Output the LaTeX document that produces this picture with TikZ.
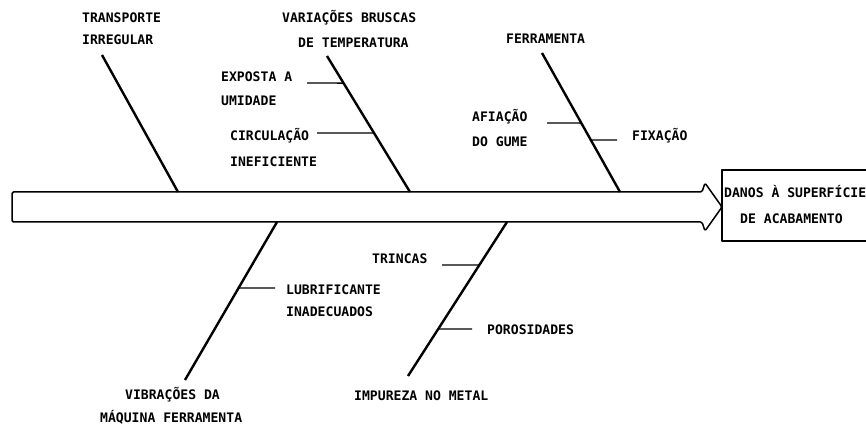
\documentclass[tikz,border=0pt]{standalone}
\usepackage{fontspec}
\setmonofont{DejaVu Sans Mono}
\begin{document}
\begin{tikzpicture}[x=1pt,y=-1pt,
  lbl/.style={anchor=base west,inner sep=0pt,font=\fontsize{13.1}{15}\selectfont\ttfamily\bfseries},
  bone/.style={line width=2.4pt},
  twig/.style={line width=1.4pt},
  outline/.style={line width=1.5pt,line join=round}]
\useasboundingbox (0,0) rectangle (866,427);
% spine (fat arrow)
\draw[outline,rounded corners=1.5pt] (12,192) -- (702,192) -- (705,183) -- (722,207) -- (705,231) -- (702,222) -- (12,222) -- cycle;
% effect box
\coordinate (e1) at (868,170);
\coordinate (e2) at (722,170);
\coordinate (e3) at (722,241);
\coordinate (e4) at (868,241);
\draw[outline] (e1) -- (e2) -- (e3) -- (e4);
\node[lbl] (eff1) at (724,197.8) {DANOS À SUPERFÍCIE};
\node[lbl] (eff2) at (740,223.8) {DE ACABAMENTO};
% bone coordinates
\coordinate (b1t) at (102,55);  \coordinate (b1s) at (178,192);
\coordinate (b2t) at (327,56);  \coordinate (b2s) at (410,192);
\coordinate (b3t) at (542,53);  \coordinate (b3s) at (620,192);
\coordinate (b4t) at (185,380); \coordinate (b4s) at (277,222);
\coordinate (b5t) at (408,376); \coordinate (b5s) at (507,222);
\draw[bone] (b1t) -- (b1s);
\draw[bone] (b2t) -- (b2s);
\draw[bone] (b3t) -- (b3s);
\draw[bone] (b4t) -- (b4s);
\draw[bone] (b5t) -- (b5s);
% twigs
\coordinate (t1a) at (307,83);
\coordinate (t2a) at (317,133);
\coordinate (t3a) at (547,123);
\coordinate (t4a) at (617,140);
\coordinate (t5a) at (275,288);
\coordinate (t6a) at (442,265);
\coordinate (t7a) at (472,329);
\path (b2t) -- (b2s) coordinate[pos=0.199] (t1b) coordinate[pos=0.566] (t2b);
\path (b3t) -- (b3s) coordinate[pos=0.504] (t3b) coordinate[pos=0.626] (t4b);
\path (b4s) -- (b4t) coordinate[pos=0.418] (t5b);
\path (b5s) -- (b5t) coordinate[pos=0.279] (t6b) coordinate[pos=0.695] (t7b);
\draw[twig] (t1a) -- (t1b);
\draw[twig] (t2a) -- (t2b);
\draw[twig] (t3a) -- (t3b);
\draw[twig] (t4a) -- (t4b);
\draw[twig] (t5a) -- (t5b);
\draw[twig] (t6a) -- (t6b);
\draw[twig] (t7a) -- (t7b);
% labels
\node[lbl] (l1a) at (82,22.8) {TRANSPORTE};
\node[lbl] (l1b) at (82,44.8) {IRREGULAR};
\node[lbl] (l2a) at (282,22.8) {VARIAÇÕES BRUSCAS};
\node[lbl] (l2b) at (298,47.8) {DE TEMPERATURA};
\node[lbl] (s1a) at (221,81.8) {EXPOSTA A};
\node[lbl] (s1b) at (221,105.8) {UMIDADE};
\node[lbl] (s2a) at (230,140.8) {CIRCULAÇÃO};
\node[lbl] (s2b) at (230,166.8) {INEFICIENTE};
\node[lbl] (l3) at (506,43.8) {FERRAMENTA};
\node[lbl] (s3a) at (472,121.8) {AFIAÇÃO};
\node[lbl] (s3b) at (472,146.8) {DO GUME};
\node[lbl] (s4) at (632,140.8) {FIXAÇÃO};
\node[lbl] (s5a) at (286,294.8) {LUBRIFICANTE};
\node[lbl] (s5b) at (286,316.8) {INADECUADOS};
\node[lbl] (l4a) at (125,399.8) {VIBRAÇÕES DA};
\node[lbl] (l4b) at (100,422.8) {MÁQUINA FERRAMENTA};
\node[lbl] (s6) at (372,263.8) {TRINCAS};
\node[lbl] (s7) at (487,334.8) {POROSIDADES};
\node[lbl] (l5) at (354,400.8) {IMPUREZA NO METAL};
\end{tikzpicture}
\end{document}
